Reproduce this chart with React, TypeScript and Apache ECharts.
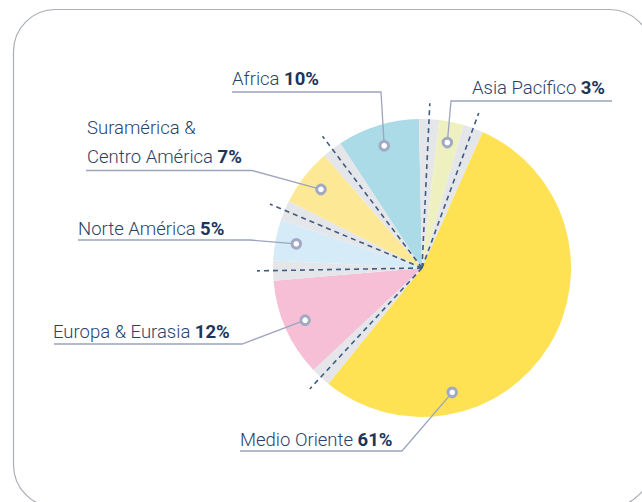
import React, { useEffect, useRef } from 'react';
import * as echarts from 'echarts';

// Data (clockwise order, starting with Medio Oriente)
const regions = ['Medio Oriente', 'Europa & Eurasia', 'Norte América', 'Suramérica & Centro América', 'Africa', 'Asia Pacífico'];
const shares = [61, 12, 5, 7, 10, 3];
const sliceColors = ['#ffe154', '#f6bfd6', '#d6ebf8', '#fde995', '#aadbe6', '#eef0bf'];
const GAP_VALUE = 2.44; // light grey separator wedge between slices

// Layout
const CX = 422;
const CY = 268;
const R = 149;
const START = 24; // degrees clockwise from 12 o'clock where the first slice starts
const DASH_R = 165;
const ANCHOR_R = 128;
const anchorFrac = [0.73, 0.5, 0.5, 0.5, 0.5, 0.5];

type LabelLayout = { lines: [string, string][]; x: number; base: number[]; path: number[][] };
const labelLayout: LabelLayout[] = [
  { lines: [['Medio Oriente ', '61%']], x: 240, base: [446], path: [[240, 451], [402, 451]] },
  { lines: [['Europa & Eurasia ', '12%']], x: 53, base: [338], path: [[54, 344], [242, 344]] },
  { lines: [['Norte América ', '5%']], x: 78, base: [235], path: [[78, 240], [250, 240]] },
  { lines: [['Suramérica &', ''], ['Centro América ', '7%']], x: 87, base: [134, 163], path: [[86, 170.5], [252, 170.5]] },
  { lines: [['Africa ', '10%']], x: 232, base: [85], path: [[232, 92], [381, 92]] },
  { lines: [['Asia Pacífico ', '3%']], x: 472, base: [94], path: [[612, 101], [451, 101]] },
];

const FONT_SIZE = 18.5;
const TEXT_COLOR = '#2a4269';
const BOLD_COLOR = '#1c355c';

function pt(deg: number, r: number): [number, number] {
  const a = (deg * Math.PI) / 180;
  return [CX + r * Math.sin(a), CY - r * Math.cos(a)];
}

export default function App() {
  const ref = useRef<HTMLDivElement>(null);

  useEffect(() => {
    if (!ref.current) return;
    const chart = echarts.init(ref.current, undefined, { renderer: 'svg' });

    const total = shares.reduce((a, b) => a + b, 0) + GAP_VALUE * shares.length;
    const k = 360 / total;
    let acc = START;
    const geo = shares.map((v) => {
      const s = acc;
      const e = acc + v * k;
      acc = e + GAP_VALUE * k;
      return { s, e, gapMid: e + (GAP_VALUE * k) / 2 };
    });

    const pieData: any[] = [];
    shares.forEach((v, i) => {
      pieData.push({ name: regions[i], value: v, itemStyle: { color: sliceColors[i] } });
      pieData.push({ name: 'gap' + i, value: GAP_VALUE, itemStyle: { color: '#e4e6e9' } });
    });

    const graphics: any[] = [];
    graphics.push({
      type: 'rect',
      shape: { x: 13.5, y: 9.5, width: 638, height: 497.5, r: 42 },
      style: { fill: 'none', stroke: '#a9adb4', lineWidth: 1.2 },
      z: 1,
    });

    geo.forEach((g) => {
      const [x2, y2] = pt(g.gapMid, DASH_R);
      graphics.push({
        type: 'line',
        shape: { x1: CX, y1: CY, x2, y2 },
        style: { stroke: '#3f5c84', lineWidth: 1.6, lineDash: [5, 4] },
        z: 10,
      });
    });

    const rich = {
      n: { fontSize: FONT_SIZE, fontFamily: 'Roboto', fontWeight: 300, fill: TEXT_COLOR },
      b: { fontSize: FONT_SIZE, fontFamily: 'Roboto', fontWeight: 'bold', fill: BOLD_COLOR },
    };

    geo.forEach((g, i) => {
      const L = labelLayout[i];
      const anchor = pt(g.s + (g.e - g.s) * anchorFrac[i], ANCHOR_R);
      graphics.push({
        type: 'polyline',
        shape: { points: [...L.path, anchor] },
        style: { fill: 'none', stroke: '#9ca4bf', lineWidth: 1.3 },
        z: 20,
      });
      graphics.push({
        type: 'circle',
        shape: { cx: anchor[0], cy: anchor[1], r: 4.3 },
        style: { fill: '#ffffff', stroke: '#a2a9c4', lineWidth: 3 },
        z: 21,
      });
      L.lines.forEach((ln, j) => {
        const txt = ln[1] ? `{n|${ln[0]}}{b|${ln[1]}}` : `{n|${ln[0]}}`;
        graphics.push({
          type: 'text',
          x: L.x,
          y: L.base[j] - 6,
          style: { text: txt, rich, align: 'left', verticalAlign: 'middle' },
          z: 22,
        });
      });
    });

    chart.setOption({
      animation: false,
      backgroundColor: '#ffffff',
      series: [
        {
          type: 'pie',
          center: [CX, CY],
          radius: R,
          startAngle: 90 - START,
          clockwise: true,
          silent: true,
          avoidLabelOverlap: false,
          label: { show: false },
          labelLine: { show: false },
          emphasis: { disabled: true },
          itemStyle: { borderWidth: 0 },
          data: pieData,
        },
      ],
      graphic: { elements: graphics },
    });

    return () => chart.dispose();
  }, []);

  return <div ref={ref} style={{ position: 'absolute', left: 0, top: 0, width: 642, height: 502 }} />;
}
